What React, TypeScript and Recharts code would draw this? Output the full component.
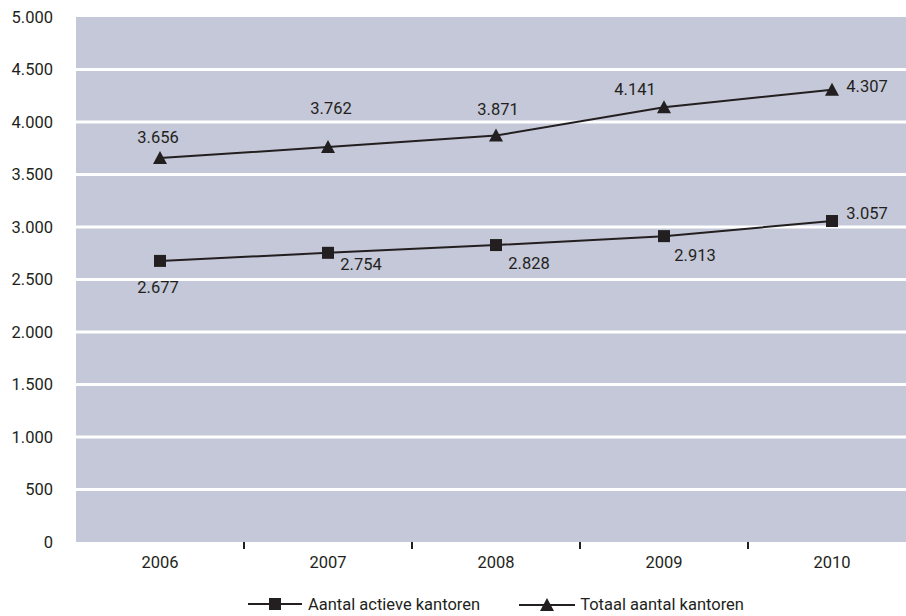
import React from 'react';
import { LineChart, Line, XAxis, YAxis, CartesianGrid, Legend, LabelList } from 'recharts';

const years = ['2006', '2007', '2008', '2009', '2010'];
const actieveKantoren = [2677, 2754, 2828, 2913, 3057];
const totaalKantoren = [3656, 3762, 3871, 4141, 4307];
const yTicks = [0, 500, 1000, 1500, 2000, 2500, 3000, 3500, 4000, 4500, 5000];
const gridValues = [500, 1000, 1500, 2000, 2500, 3000, 3500, 4000, 4500];
const Y_MAX = 5000;

// label placement next to each point: [dx, dy] from the marker to text centre/baseline
const totaalLabelOffsets = [[-2, -15], [3, -33], [2, -21], [-29, -12], [35, 2]];
const actiefLabelOffsets = [[-2, 32], [33, 17], [33, 24], [31, 25], [35, -2]];

const data = years.map((year, i) => ({
  year,
  actief: actieveKantoren[i],
  totaal: totaalKantoren[i],
}));

const INK = '#231f20';
const BG = '#c5c8d8';
const FONT = 'Roboto, "Liberation Sans", Arial, sans-serif';
const FS = 16.5;

const CHART_W = 916;
const CHART_H = 616;
const MARGIN_TOP = 17;
const X_AXIS_H = 50;
const LEGEND_H = 24;
const Y_AXIS_W = 76;
const BAND = (CHART_W - Y_AXIS_W) / years.length;
const PLOT_H = CHART_H - MARGIN_TOP - X_AXIS_H - LEGEND_H;

const fmt = (v: number) => String(v).replace(/\B(?=(\d{3})+(?!\d))/g, '.');

const SquareDot = (props: any) => {
  const { cx, cy, index } = props;
  if (cx == null || cy == null) return null;
  return <rect key={`sq-${index}`} x={cx - 6} y={cy - 6} width={12} height={12} fill={INK} />;
};

const TriangleDot = (props: any) => {
  const { cx, cy, index } = props;
  if (cx == null || cy == null) return null;
  return (
    <path
      key={`tr-${index}`}
      d={`M${cx},${cy - 7} L${cx + 7},${cy + 6} L${cx - 7},${cy + 6} Z`}
      fill={INK}
    />
  );
};

const makeLabel = (offsets: number[][]) => (props: any) => {
  const { x, y, value, index } = props;
  const [dx, dy] = offsets[index] || [0, -12];
  return (
    <text x={x + dx} y={y + dy} textAnchor="middle" fill={INK} fontSize={FS} fontFamily={FONT}>
      {fmt(value)}
    </text>
  );
};

const XTick = (props: any) => {
  const { x, y, payload, index } = props;
  return (
    <g>
      {index < years.length - 1 && (
        <line x1={x + BAND / 2} x2={x + BAND / 2} y1={y} y2={y + 7} stroke={INK} strokeWidth={2} />
      )}
      <text x={x} y={y + 26} textAnchor="middle" fill={INK} fontSize={FS} fontFamily={FONT}>
        {payload.value}
      </text>
    </g>
  );
};

const renderLegend = () => (
  <div
    style={{
      display: 'flex',
      justifyContent: 'center',
      alignItems: 'center',
      gap: 39,
      fontFamily: FONT,
      fontSize: FS,
      color: INK,
      height: 24,
    }}
  >
    <div style={{ display: 'flex', alignItems: 'center' }}>
      <svg width={54} height={14}>
        <line x1={0} x2={54} y1={7} y2={7} stroke={INK} strokeWidth={2} />
        <rect x={21} y={1} width={12} height={12} fill={INK} />
      </svg>
      <span style={{ marginLeft: 6 }}>Aantal actieve kantoren</span>
    </div>
    <div style={{ display: 'flex', alignItems: 'center' }}>
      <svg width={56} height={14}>
        <line x1={0} x2={56} y1={8} y2={8} stroke={INK} strokeWidth={2} />
        <path d="M28,1 L35,14 L21,14 Z" fill={INK} />
      </svg>
      <span style={{ marginLeft: 5 }}>Totaal aantal kantoren</span>
    </div>
  </div>
);

const gridCoords = (args: any) => {
  const top = args?.offset?.top ?? MARGIN_TOP;
  const h = args?.offset?.height ?? PLOT_H;
  return gridValues.map((v) => top + h * (1 - v / Y_MAX));
};

export default function App() {
  return (
    <div
      style={{
        position: 'absolute',
        left: 0,
        top: 0,
        width: 906,
        height: 616,
        overflow: 'hidden',
        background: '#fff',
        fontFamily: FONT,
      }}
    >
      <LineChart width={CHART_W} height={CHART_H} data={data} margin={{ top: MARGIN_TOP, right: 0, bottom: 0, left: 0 }}>
        <CartesianGrid
          fill={BG}
          fillOpacity={1}
          stroke="#ffffff"
          strokeWidth={3}
          vertical={false}
          horizontalCoordinatesGenerator={gridCoords}
        />
        <XAxis
          dataKey="year"
          axisLine={false}
          tickLine={false}
          tickSize={0}
          tickMargin={0}
          height={X_AXIS_H}
          interval={0}
          padding={{ left: BAND / 2, right: BAND / 2 }}
          tick={<XTick />}
        />
        <YAxis
          domain={[0, Y_MAX]}
          ticks={yTicks}
          width={Y_AXIS_W}
          axisLine={false}
          tickLine={false}
          tickSize={0}
          tickMargin={23}
          tickFormatter={fmt}
          tick={{ fill: INK, fontSize: FS, fontFamily: FONT }}
        />
        <Legend verticalAlign="bottom" height={LEGEND_H} content={renderLegend} wrapperStyle={{ left: 76, width: 840 }} />
        <Line
          type="linear"
          dataKey="actief"
          stroke={INK}
          strokeWidth={2}
          dot={<SquareDot />}
          activeDot={false}
          isAnimationActive={false}
        >
          <LabelList dataKey="actief" content={makeLabel(actiefLabelOffsets)} />
        </Line>
        <Line
          type="linear"
          dataKey="totaal"
          stroke={INK}
          strokeWidth={2}
          dot={<TriangleDot />}
          activeDot={false}
          isAnimationActive={false}
        >
          <LabelList dataKey="totaal" content={makeLabel(totaalLabelOffsets)} />
        </Line>
      </LineChart>
    </div>
  );
}
